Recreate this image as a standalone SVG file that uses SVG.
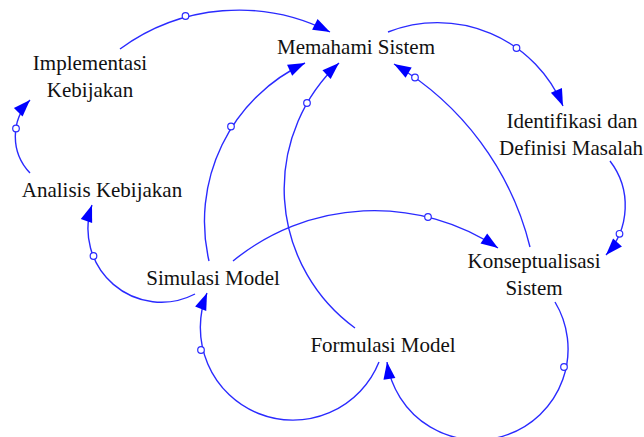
<svg xmlns="http://www.w3.org/2000/svg" width="644" height="437" viewBox="0 0 644 437">
  <style>
    .lbl { font-family: "Liberation Serif", "Times New Roman", serif; font-size: 21px; fill: #111; text-anchor: middle; }
    .link { fill: none; stroke: #2a2aff; stroke-width: 1.4; marker-end: url(#head); }
    .knot { fill: #fff; stroke: #2a2aff; stroke-width: 1.2; }
  </style>
  <defs>
    <marker id="head" markerUnits="userSpaceOnUse" markerWidth="20" markerHeight="14" viewBox="-18 -7 19 14" refX="0" refY="0" orient="auto">
      <path d="M0,0 L-17,-6 L-17,6 Z" fill="#0000ff"/>
    </marker>
  </defs>
  <rect width="644" height="437" fill="#fff"/>

  <g id="connectors">
    <!-- Implementasi Kebijakan -> Memahami Sistem -->
    <path class="link" d="M120,49 A201,201 0 0 1 330,32"/>
    <circle class="knot" cx="185.5" cy="16" r="3.3"/>
    <!-- Memahami Sistem -> Identifikasi dan Definisi Masalah -->
    <path class="link" d="M388,32 A136,136 0 0 1 563,106"/>
    <circle class="knot" cx="516.5" cy="48" r="3.3"/>
    <!-- Identifikasi dan Definisi Masalah -> Konseptualisasi Sistem -->
    <path class="link" d="M610,161 A73,73 0 0 1 606,255"/>
    <circle class="knot" cx="619.5" cy="233.8" r="3.3"/>
    <!-- Konseptualisasi Sistem -> Memahami Sistem -->
    <path class="link" d="M530,247 A295,295 0 0 0 394,64"/>
    <circle class="knot" cx="415" cy="77.5" r="3.3"/>
    <!-- Konseptualisasi Sistem -> Formulasi Model -->
    <path class="link" d="M555,302 A91,91 0 1 1 387,362"/>
    <circle class="knot" cx="564" cy="367" r="3.3"/>
    <!-- Formulasi Model -> Simulasi Model -->
    <path class="link" d="M379,362 A92,92 0 1 1 207,293"/>
    <circle class="knot" cx="201" cy="350" r="3.3"/>
    <!-- Simulasi Model -> Analisis Kebijakan -->
    <path class="link" d="M195,294 A73.3,73.3 0 0 1 92,205"/>
    <circle class="knot" cx="93.5" cy="256" r="3.3"/>
    <!-- Analisis Kebijakan -> Implementasi Kebijakan -->
    <path class="link" d="M30,173 A52.7,52.7 0 0 1 30,100"/>
    <circle class="knot" cx="16" cy="128.5" r="3.3"/>
    <!-- Simulasi Model -> Memahami Sistem -->
    <path class="link" d="M209,261 A175,175 0 0 1 305,63"/>
    <circle class="knot" cx="231" cy="126.5" r="3.3"/>
    <!-- Formulasi Model -> Memahami Sistem -->
    <path class="link" d="M355,328 A172,172 0 0 1 339,63"/>
    <circle class="knot" cx="307" cy="103" r="3.3"/>
    <!-- Simulasi Model -> Konseptualisasi Sistem -->
    <path class="link" d="M233,261 A223.2,223.2 0 0 1 498,248"/>
    <circle class="knot" cx="428" cy="217" r="3.3"/>
  </g>

  <g id="memahami-sistem">
    <text class="lbl" x="356" y="54">Memahami Sistem</text>
  </g>
  <g id="implementasi-kebijakan">
    <text class="lbl" x="90" y="70">Implementasi</text>
    <text class="lbl" x="90" y="97">Kebijakan</text>
  </g>
  <g id="analisis-kebijakan">
    <text class="lbl" x="102" y="197">Analisis Kebijakan</text>
  </g>
  <g id="identifikasi-masalah">
    <text class="lbl" x="572" y="128">Identifikasi dan</text>
    <text class="lbl" x="571" y="155">Definisi Masalah</text>
  </g>
  <g id="simulasi-model">
    <text class="lbl" x="213" y="285">Simulasi Model</text>
  </g>
  <g id="konseptualisasi-sistem">
    <text class="lbl" x="534" y="268">Konseptualisasi</text>
    <text class="lbl" x="534" y="295">Sistem</text>
  </g>
  <g id="formulasi-model">
    <text class="lbl" x="383" y="352">Formulasi Model</text>
  </g>
</svg>
